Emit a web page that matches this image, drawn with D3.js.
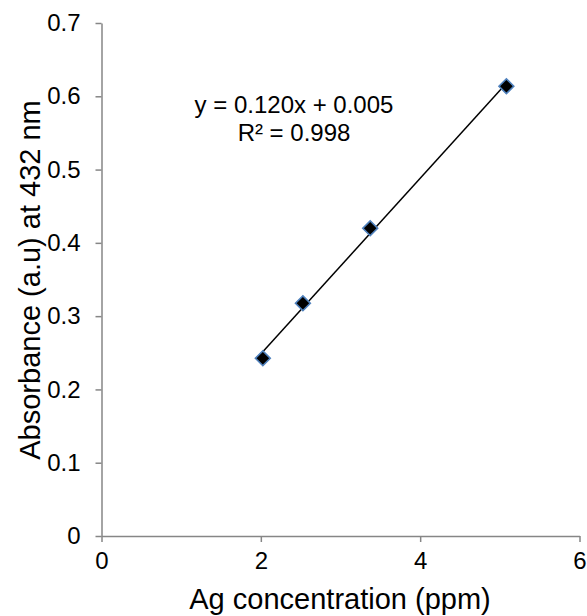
<!DOCTYPE html>
<html><head><meta charset="utf-8">
<script src="https://cdn.jsdelivr.net/npm/d3@7"></script>
<style>body{margin:0;background:#fff;} svg{display:block;font-family:"Liberation Sans",Arial,sans-serif;}</style>
</head><body>
<svg id="c" width="587" height="616"></svg>
<script>
const concentration = [2.025, 2.528, 3.373, 5.082];
const absorbance = [0.2425, 0.3176, 0.420, 0.6137];
const xTicks = [0, 2, 4, 6];
const yTicks = [0, 0.1, 0.2, 0.3, 0.4, 0.5, 0.6, 0.7];
const equationText = ["y = 0.120x + 0.005", "R\u00b2 = 0.998"];
const xTitle = "Ag concentration (ppm)";
const yTitle = "Absorbance (a.u) at 432 nm";

const svg = d3.select("#c");
const x = d3.scaleLinear().domain([0, 6]).range([101.5, 579.5]);
const y = d3.scaleLinear().domain([0, 0.7]).range([536, 23]);
const axisColor = "#868686";

const xa = svg.append("g").attr("transform", `translate(0,${y(0)})`)
  .call(d3.axisBottom(x).tickValues(xTicks).tickFormat(d3.format("d")).tickSize(6).tickSizeOuter(0).tickPadding(10));
const ya = svg.append("g").attr("transform", `translate(${x(0)},0)`)
  .call(d3.axisLeft(y).tickValues(yTicks).tickFormat(d => d === 0 ? "0" : d3.format(".1f")(d)).tickSize(6).tickSizeOuter(0).tickPadding(15));
[xa, ya].forEach(a => {
  a.attr("font-size", null).attr("font-family", null);
  a.select(".domain").attr("stroke", axisColor).attr("stroke-width", 1.5);
  a.selectAll(".tick line").attr("stroke", axisColor).attr("stroke-width", 1.5);
  a.selectAll(".tick text").attr("fill", "#000").style("font-size", "24px");
});

// trendline (least squares)
const n = concentration.length;
const mx = d3.mean(concentration), my = d3.mean(absorbance);
let sxy = 0, sxx = 0;
for (let i = 0; i < n; i++) { sxy += (concentration[i]-mx)*(absorbance[i]-my); sxx += (concentration[i]-mx)**2; }
const slope = sxy/sxx, icpt = my - slope*mx;
const x0 = d3.min(concentration), x1 = d3.max(concentration);
svg.append("line")
  .attr("x1", x(x0)).attr("y1", y(slope*x0+icpt))
  .attr("x2", x(x1)).attr("y2", y(slope*x1+icpt))
  .attr("stroke", "#000").attr("stroke-width", 1.5);

const diamond = d3.symbol().type(d3.symbolSquare).size(110);
svg.selectAll(".pt").data(concentration).join("path")
  .attr("d", diamond)
  .attr("transform", (d, i) => `translate(${x(d)},${y(absorbance[i])}) rotate(45)`)
  .attr("fill", "#000").attr("stroke", "#4f81bd").attr("stroke-width", 1.6);

svg.selectAll(".eq").data(equationText).join("text")
  .attr("x", 294).attr("y", (d, i) => 113 + i*28)
  .attr("text-anchor", "middle").style("font-size", "24px").text(d => d);

svg.append("text").attr("x", 340).attr("y", 609).attr("text-anchor", "middle")
  .style("font-size", "29px").text(xTitle);
svg.append("text").attr("transform", "translate(40,280) rotate(-90)").attr("text-anchor", "middle")
  .style("font-size", "29px").text(yTitle);
</script>
</body></html>
